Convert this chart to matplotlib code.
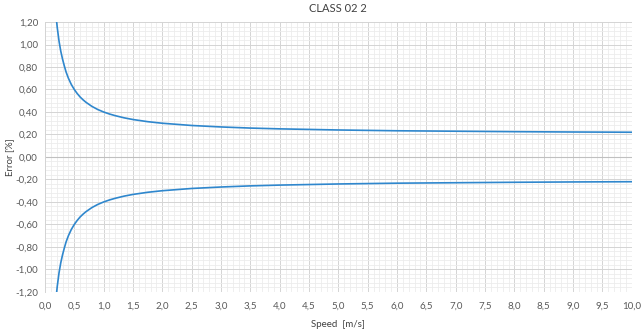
import matplotlib.pyplot as plt
from matplotlib.ticker import MultipleLocator, FuncFormatter

speed = [0.2, 0.21, 0.22, 0.23, 0.24, 0.25, 0.27, 0.3, 0.33, 0.36, 0.4, 0.45, 0.5,
         0.55, 0.6, 0.65, 0.7, 0.8, 0.9, 1.0, 1.1, 1.2, 1.35, 1.5, 1.75, 2.0, 2.5,
         3.0, 3.5, 4.0, 5.0, 6.0, 7.0, 8.0, 9.0, 10.0]
err_upper = [1.20, 1.15, 1.11, 1.07, 1.03, 1.00, 0.94, 0.87, 0.81, 0.756, 0.70,
             0.644, 0.60, 0.564, 0.533, 0.508, 0.486, 0.45, 0.422, 0.40, 0.382,
             0.367, 0.348, 0.333, 0.314, 0.30, 0.28, 0.267, 0.257, 0.25, 0.24,
             0.233, 0.229, 0.225, 0.222, 0.22]
err_lower = [-e for e in err_upper]

plt.rcParams['font.family'] = ['Lato', 'DejaVu Sans']

fig = plt.figure(figsize=(6.42, 3.31), dpi=100)
ax = fig.add_axes([0.07, 0.118, 0.914, 0.8155])

blue = '#2f87cd'
ax.plot(speed, err_upper, color=blue, lw=1.2)
ax.plot(speed, err_lower, color=blue, lw=1.2)

ax.set_xlim(0, 10)
ax.set_ylim(-1.2, 1.2)
ax.xaxis.set_major_locator(MultipleLocator(0.5))
ax.xaxis.set_minor_locator(MultipleLocator(0.1))
ax.yaxis.set_major_locator(MultipleLocator(0.2))
ax.yaxis.set_minor_locator(MultipleLocator(0.04))
ax.xaxis.set_major_formatter(FuncFormatter(lambda v, p: f'{v:.1f}'.replace('.', ',')))
ax.yaxis.set_major_formatter(FuncFormatter(lambda v, p: f'{v:.2f}'.replace('.', ',').replace('-0,00', '0,00')))

ax.grid(which='minor', color='#ececec', lw=0.6)
ax.grid(which='major', color='#d4d4d4', lw=0.7)
ax.axhline(0, color='#c0c0c0', lw=0.8, zorder=1)
ax.set_axisbelow(True)

for s in ['top', 'right', 'bottom']:
    ax.spines[s].set_visible(False)
ax.spines['left'].set_color('#d4d4d4')
ax.spines['left'].set_linewidth(0.7)

ax.tick_params(which='both', length=0, labelsize=7, labelcolor='#595959', pad=7)
ax.tick_params(axis='y', pad=5)

ax.set_title('CLASS 02 2', fontsize=8, color='#404040', pad=7)
ax.set_xlabel('Speed  [m/s]', fontsize=7, color='#404040', labelpad=7)
ax.set_ylabel('Error [%]', fontsize=7, color='#404040')
ax.yaxis.set_label_coords(-0.053, 0.5)

fig.savefig('out.png', dpi=100)
